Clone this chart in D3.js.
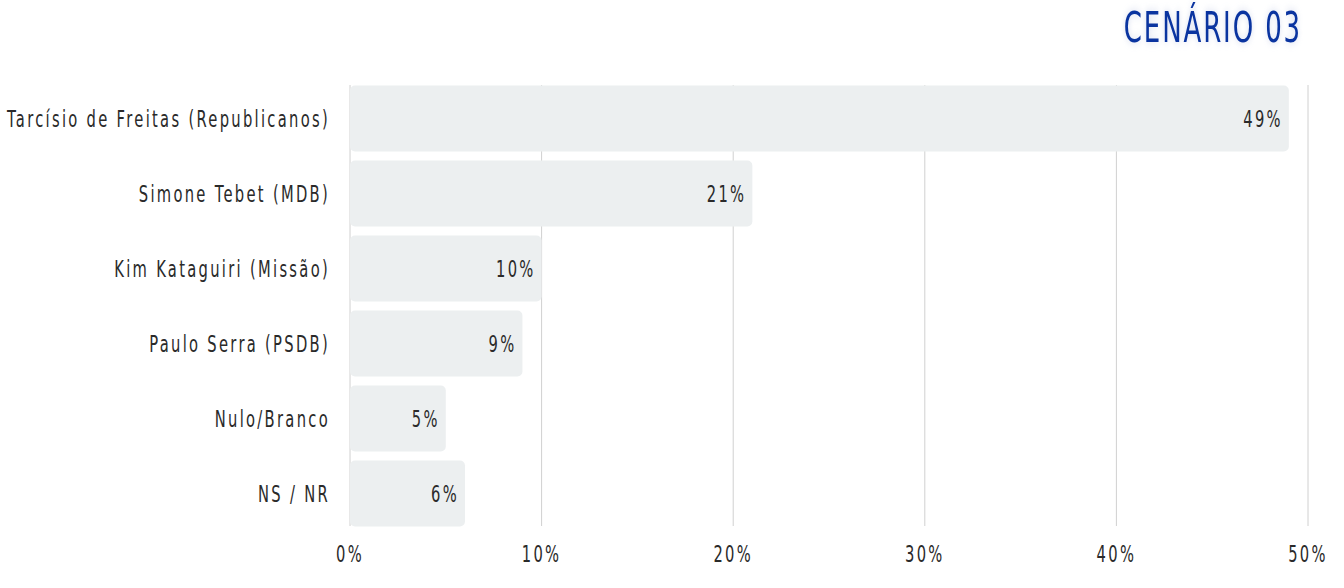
<!DOCTYPE html>
<html><head><meta charset="utf-8">
<script src="https://cdn.jsdelivr.net/npm/d3@7"></script>
<style>
body{margin:0;background:#fff}
text{font-family:"DejaVu Sans",sans-serif;font-weight:400}
</style></head><body>
<svg id="chart" width="1344" height="588"></svg>
<script>
const candidates = ["Tarcísio de Freitas (Republicanos)", "Simone Tebet (MDB)", "Kim Kataguiri (Missão)", "Paulo Serra (PSDB)", "Nulo/Branco", "NS / NR"]
const values = [49, 21, 10, 9, 5, 6]
const ticks = [0, 10, 20, 30, 40, 50]

const svg = d3.select("#chart")
const x = d3.scaleLinear().domain([0, 50]).range([350, 1308])
const y = d3.scaleBand().domain(candidates).range([81, 531]).paddingInner(0.12).paddingOuter(0.06)
const sx = 0.64

// grid
svg.append("g").selectAll("line").data(ticks).enter().append("line")
  .attr("x1", d => x(d)).attr("x2", d => x(d))
  .attr("y1", 85).attr("y2", 526)
  .style("stroke", "#d0d0d0").style("stroke-width", 1)

svg.append("g").selectAll("rect").data(values).enter().append("rect")
  .attr("x", x(0)).attr("y", (d, i) => y(candidates[i]))
  .attr("width", d => x(d) - x(0)).attr("height", y.bandwidth())
  .attr("rx", 5).style("fill", "#eceff0")

function txt(g, data, fx, fy, anchor) {
  return g.selectAll("text").data(data).enter().append("text")
    .attr("transform", (d, i) => `translate(${fx(d, i)},${fy(d, i)}) scale(${sx},1)`)
    .attr("text-anchor", anchor).style("font-size", "23px").style("letter-spacing", "3.6px")
    .style("fill", "#2a2a2a")
}

txt(svg.append("g"), values, d => x(d) - 6, (d, i) => y(candidates[i]) + y.bandwidth() / 2 + 8, "end")
  .text(d => d + "%")
txt(svg.append("g"), candidates, d => 330, d => y(d) + y.bandwidth() / 2 + 8, "end")
  .text(d => d)
txt(svg.append("g"), ticks, d => x(d), d => 562, "middle")
  .text(d => d + "%")

svg.append("text").attr("transform", "translate(1302,42) scale(0.62,1)").attr("text-anchor", "end")
  .style("font-size", "42px").style("fill", "#0a34a0").style("letter-spacing", "3px")
  .style("filter", "drop-shadow(0 0 4px rgba(120,140,200,0.35))")
  .text("CENÁRIO 03")
</script></body></html>
